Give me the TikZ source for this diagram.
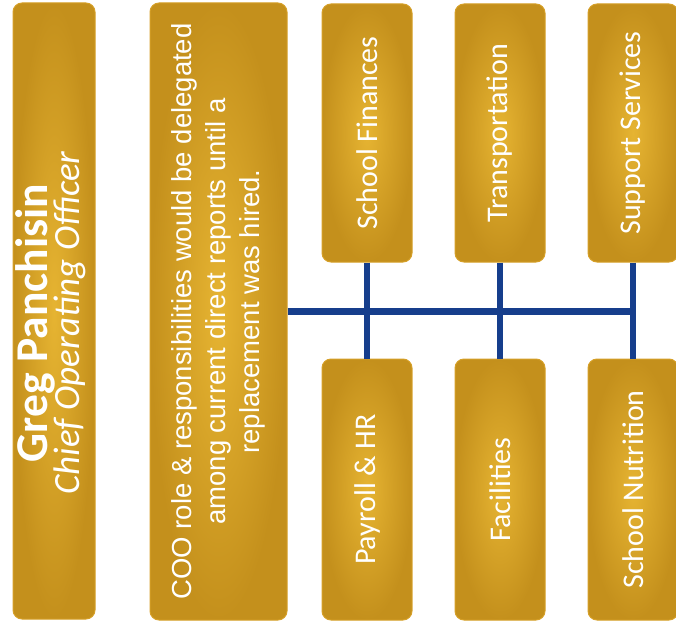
\documentclass[tikz,border=0pt]{standalone}
\usepackage{fontspec}
\setmainfont{Carlito}
\newfontfamily\arialf{Liberation Sans}
\definecolor{goldL}{RGB}{230,180,50}
\definecolor{goldD}{RGB}{196,144,28}
\definecolor{goldE}{RGB}{214,160,40}
\definecolor{lineblue}{RGB}{22,62,140}
\begin{document}
\begin{tikzpicture}[x=1pt,y=-1pt,
  box/.style={rounded corners=9pt, shading=radial, inner color=goldL, outer color=goldD,
    draw=goldE, line width=1pt, inner sep=0pt},
  smallbox/.style={box, minimum width=90pt},
  topbox/.style={smallbox, minimum height=258pt},
  botbox/.style={smallbox, minimum height=261pt},
  txt/.style={text=white, inner sep=0pt, font=\fontsize{30}{36}\selectfont},
  conn/.style={draw=lineblue, line width=6.5pt}]
\useasboundingbox (0,0) rectangle (676,623);

% boxes
\node[box, minimum width=82pt, minimum height=616pt] (greg) at (54,311) {};
\node[box, minimum width=137pt, minimum height=617pt] (coo) at (218.5,311.5) {};
\node[topbox] (sf) at (367,133) {};
\node[topbox] (tr) at (500,133) {};
\node[topbox] (ss) at (633,133) {};
\node[botbox] (pay) at (367,489.5) {};
\node[botbox] (fac) at (500,489.5) {};
\node[botbox] (nut) at (633,489.5) {};

% texts
\node[txt] (gregt) at ([xshift=-1pt,yshift=-12pt]greg.center) {\rotatebox{90}{\begin{tabular}{@{}c@{}}
  \fontsize{45.5}{45.5}\selectfont\bfseries Greg Panchisin\\[-5pt]
  \fontsize{37}{37}\selectfont\itshape Chief Operating Officer\end{tabular}}};
\node[txt] (coot) at (coo.center) {\rotatebox{90}{\arialf\fontsize{27.5}{34}\selectfont
  \begin{tabular}{@{}c@{}}COO role \& responsibilities would be delegated\\
  among current direct reports until a\\ replacement was hired.\end{tabular}}};
\node[txt] (sft) at (sf.center) {\rotatebox{90}{School Finances}};
\node[txt] (trt) at (tr.center) {\rotatebox{90}{Transportation}};
\node[txt] (sst) at (ss.center) {\rotatebox{90}{Support Services}};
\node[txt] (payt) at (pay.center) {\rotatebox{90}{Payroll \& HR}};
\node[txt] (fact) at (fac.center) {\rotatebox{90}{Facilities}};
\node[txt] (nutt) at (nut.center) {\rotatebox{90}{School Nutrition}};

% connectors
\draw[conn] (coo.east) -- ([xshift=3pt]coo.east -| ss.south);
\draw[conn] (sf.south) -- (pay.north);
\draw[conn] (tr.south) -- (fac.north);
\draw[conn] (ss.south) -- (nut.north);
\end{tikzpicture}
\end{document}
